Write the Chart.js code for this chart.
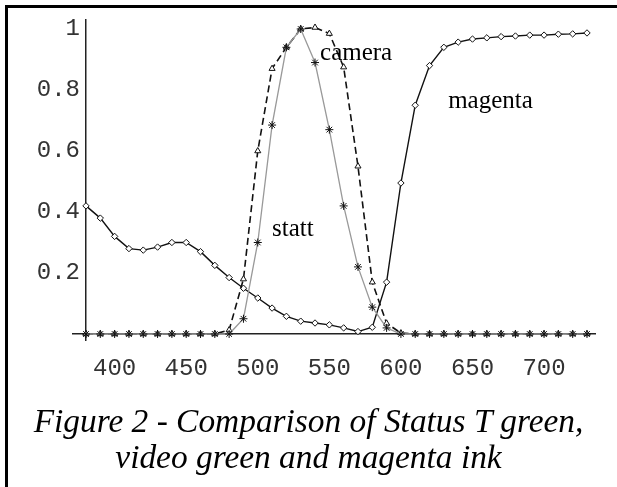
<!DOCTYPE html>
<html>
<head>
<meta charset="utf-8">
<script src="https://cdn.jsdelivr.net/npm/chart.js@4.4.0/dist/chart.umd.min.js"></script>
<style>
  html, body { margin:0; padding:0; background:#fff; }
  #wrap { position:relative; width:617px; height:487px; overflow:hidden; }
  #frame { position:absolute; left:5px; top:5px; width:700px; height:600px;
           border-left:3px solid #000; border-top:3px solid #000; }
  #plot { position:absolute; left:0; top:0; }
  #caption { position:absolute; left:0; top:403px; width:617px; text-align:center;
             font:italic 33.4px "Liberation Serif", serif; line-height:36px; color:#000; }
</style>
</head>
<body>
<div id="wrap">
  <div id="frame"></div>
  <canvas id="plot" width="617" height="487"></canvas>
  <div id="caption">Figure 2 - Comparison of Status T green,<br>video green and magenta ink</div>
</div>
<script>
// Données
const wavelength = [380,390,400,410,420,430,440,450,460,470,480,490,500,510,520,530,540,550,
                    560,570,580,590,600,610,620,630,640,650,660,670,680,690,700,710,720,730];
const magenta = [0.42,0.38,0.32,0.28,0.275,0.285,0.30,0.30,0.27,0.225,0.185,0.15,0.118,0.085,0.058,0.042,0.036,0.03,
                 0.02,0.008,0.022,0.17,0.495,0.75,0.88,0.94,0.957,0.967,0.971,0.975,0.977,0.98,0.98,0.983,0.984,0.987];
const camera = [0,0,0,0,0,0,0,0,0,0,0.013,0.18,0.60,0.87,0.94,1.0,1.005,0.985,
                0.875,0.55,0.17,0.035,0.003,0,0,0,0,0,0,0,0,0,0,0,0,0];
const statt = [0,0,0,0,0,0,0,0,0,0,0,0.05,0.30,0.685,0.94,1.0,0.89,0.67,
               0.42,0.22,0.088,0.02,0,0,0,0,0,0,0,0,0,0,0,0,0,0];
const xTicks = [400,450,500,550,600,650,700];
const yTicks = [0.2,0.4,0.6,0.8,1];
const noteText = ["camera","magenta","statt"];
const noteX = [543.5,633,510];
const noteY = [0.898,0.741,0.321];

const X_MIN = 370.92, X_MAX = 735.59, Y_MIN = -0.0197, Y_MAX = 1.0295;

const pts = (ys) => wavelength.map((w,i)=>({x:w, y:ys[i]}));
const tickFont = { family:"Liberation Mono", size:24 };
const noGrid = { display:false };

// Étiquettes dans le graphique
const notesPlugin = {
  id: "notes",
  afterDatasetsDraw(chart){
    const {ctx, scales:{x, y}} = chart;
    ctx.save();
    ctx.font = '25px "Liberation Serif"';
    ctx.fillStyle = "#000";
    ctx.textAlign = "left";
    ctx.textBaseline = "alphabetic";
    noteText.forEach((t,i)=> ctx.fillText(t, x.getPixelForValue(noteX[i]), y.getPixelForValue(noteY[i])));
    ctx.restore();
  }
};

new Chart(document.getElementById("plot").getContext("2d"), {
  type: "line",
  data: {
    datasets: [
      { label:"statt", data:pts(statt), borderColor:"#999", borderWidth:1.3,
        pointStyle:"star", pointRadius:4, pointBorderColor:"#111", pointBorderWidth:1, pointBackgroundColor:"#fff" },
      { label:"camera", data:pts(camera), borderColor:"#111", borderWidth:1.6, borderDash:[7,4],
        pointStyle:"triangle", pointRadius:3.5, pointBorderColor:"#111", pointBorderWidth:1, pointBackgroundColor:"#fff" },
      { label:"magenta", data:pts(magenta), borderColor:"#111", borderWidth:1.4,
        pointStyle:"rectRot", pointRadius:3.2, pointBorderColor:"#111", pointBorderWidth:1, pointBackgroundColor:"#fff" }
    ]
  },
  options: {
    responsive:false, animation:false, devicePixelRatio:1,
    layout:{ padding:{ left:73, top:20, right:22, bottom:147 } },
    plugins:{ legend:{display:false}, tooltip:{enabled:false} },
    scales:{
      x:{ type:"linear", min:X_MIN, max:X_MAX, position:{y:0},
          grid:noGrid,
          border:{display:true, color:"#222", width:1.5},
          afterBuildTicks:(s)=>{ s.ticks = xTicks.map(v=>({value:v})); },
          ticks:{ font:tickFont, color:"#333", padding:12, maxRotation:0, autoSkip:false,
                  callback:(v)=>String(v) } },
      // axe des y : la ligne seulement
      y:{ type:"linear", min:Y_MIN, max:Y_MAX, position:{x:380},
          grid:noGrid,
          border:{display:true, color:"#222", width:1.5},
          ticks:{ display:false } },
      // étiquettes des y, un peu à gauche de l'axe
      yLabels:{ type:"linear", axis:"y", min:Y_MIN, max:Y_MAX, position:{x:375.8},
          grid:noGrid,
          border:{display:false},
          afterBuildTicks:(s)=>{ s.ticks = yTicks.map(v=>({value:v})); },
          ticks:{ font:tickFont, color:"#333", autoSkip:false, callback:(v)=>String(v) } }
    }
  },
  plugins:[notesPlugin]
});
</script>
</body>
</html>
